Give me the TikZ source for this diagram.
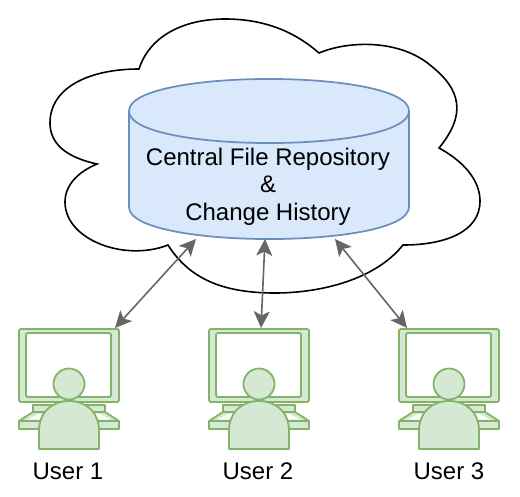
\documentclass[tikz,border=0pt]{standalone}
\usepackage{fontspec}
\setmainfont{Liberation Sans}
\usetikzlibrary{arrows.meta}
\tikzset{
  x=0.75pt,y=-0.75pt,
  cloudline/.style={draw=black,line width=1.2pt,line join=miter},
  cyl/.style={draw=cylblue,fill=cylfill,line width=1.3pt},
  usr/.style={draw=usrgreen,fill=usrfill,line width=1.35pt,line join=round},
  link/.style={draw=linkgray,line width=1.2pt,{Stealth[length=12.5pt,width=12pt,inset=3pt]}-{Stealth[length=12.5pt,width=12pt,inset=3pt]}},
  lbl/.style={font=\fontsize{18pt}{20.7pt}\selectfont,text=black,inner sep=0pt,align=center},
}
\definecolor{cylblue}{HTML}{6C8EBF}
\definecolor{cylfill}{HTML}{DAE8FC}
\definecolor{usrgreen}{HTML}{82B366}
\definecolor{usrfill}{HTML}{D5E8D4}
\definecolor{linkgray}{HTML}{666666}
\newcommand{\workstation}[1]{%
  \begin{scope}[shift={(#1,0)}]
    \draw[usr] (33,405) rectangle (105,412);
    \draw[usr] (19,421) -- (33,412) -- (105,412) -- (119,421) -- (119,429) -- (19,429) -- cycle;
    \draw[usr] (19,421) -- (119,421);
    \draw[usr,fill=white,line width=0pt,draw=none] (28,419.5) -- (38,414) -- (100,414) -- (110,419.5) -- cycle;
    \draw[usr,rounded corners=1.5pt] (19,329) rectangle (119,402);
    \draw[usr,fill=white,rounded corners=1.5pt] (26,333) rectangle (111,397);
    \draw[usr] (39,449) -- (39,431) .. controls (39,412) and (52,401) .. (69,401) .. controls (86,401) and (99,412) .. (99,431) -- (99,449) -- cycle;
    \draw[usr] (69,384) circle (15.5);
  \end{scope}}
\begin{document}
\begin{tikzpicture}
\useasboundingbox (0,0) rectangle (520,496);
\draw[cloudline,fill=white]
 (139,69) .. controls (150,35) and (185,19) .. (225,19)
 .. controls (265,19) and (295,32) .. (319,53)
 .. controls (350,40) and (400,40) .. (430,65)
 .. controls (462,90) and (466,115) .. (439,148)
 .. controls (470,165) and (480,185) .. (480,201)
 .. controls (480,232) and (445,245) .. (403,245)
 .. controls (375,280) and (320,293) .. (275,293)
 .. controls (225,293) and (190,280) .. (168,245)
 .. controls (125,262) and (65,240) .. (65,202)
 .. controls (65,185) and (78,172) .. (97,164)
 .. controls (65,157) and (50,143) .. (50,123)
 .. controls (50,87) and (90,69) .. (139,69) -- cycle;
\draw[cyl] (129,111) .. controls (129,68.3) and (409,68.3) .. (409,111) -- (409,207) .. controls (409,249.7) and (129,249.7) .. (129,207) -- cycle;
\draw[cyl,fill=none] (129,111) .. controls (129,153.7) and (409,153.7) .. (409,111);
\node[lbl] (repo) at (268,186.5) {Central File Repository\\\&\\Change History};
\workstation{0}
\workstation{190}
\workstation{380}
\node[lbl] (u1) at (68,471) {User 1};
\node[lbl] (u2) at (258,471) {User 2};
\node[lbl] (u3) at (449,471) {User 3};
\coordinate (a1) at (196,239);
\coordinate (b1) at (115,328);
\coordinate (a2) at (265,239);
\coordinate (b2) at (261,328);
\coordinate (a3) at (335,239);
\coordinate (b3) at (407,328);
\draw[link] (a1) -- (b1);
\draw[link] (a2) -- (b2);
\draw[link] (a3) -- (b3);
\end{tikzpicture}
\end{document}
